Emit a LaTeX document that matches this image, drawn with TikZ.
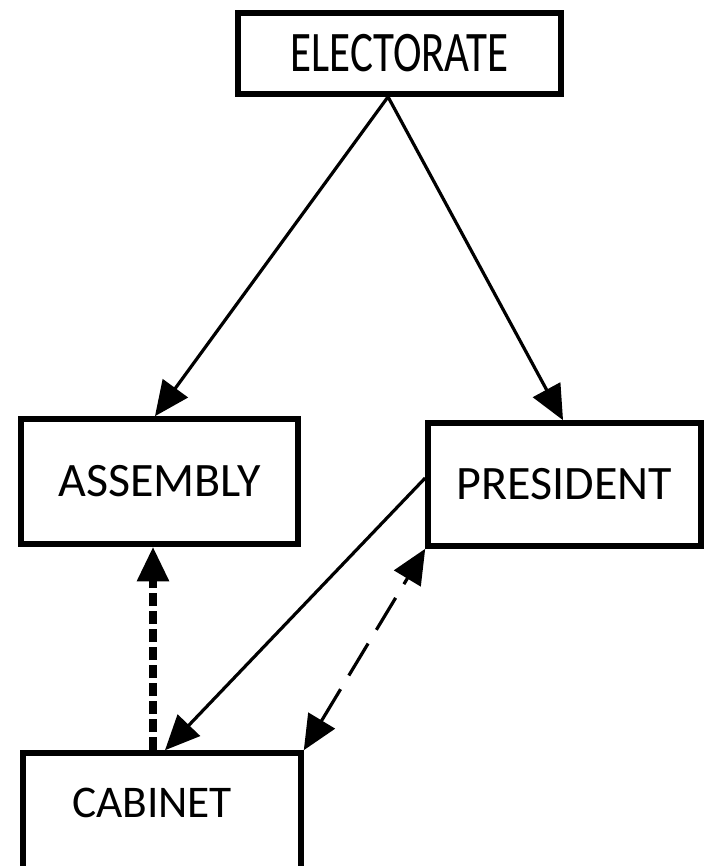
\documentclass[tikz,border=0pt]{standalone}
\usepackage{fontspec}
\setmainfont{Carlito}
\usepackage{graphicx}
\usetikzlibrary{arrows.meta}

\begin{document}
\begin{tikzpicture}[x=0.75pt,y=-0.75pt,
  box/.style={draw,line width=4.2pt,inner sep=0pt,font=\fontsize{36}{42}\selectfont},
  link/.style={line width=2.4pt,-{Triangle[length=26pt,width=23pt]}}]
\useasboundingbox (0,0) rectangle (705,866);
\node [box,minimum width=242.25pt,minimum height=60.75pt] (elec) at (399.5,53.5) {\scalebox{0.75}[1]{\fontsize{43}{50}\selectfont ELECTORATE}};
\node [box,minimum width=207.75pt,minimum height=93.75pt] (asm) at (159.5,481.5) {ASSEMBLY};
\node [box,minimum width=204.75pt,minimum height=92.25pt] (pres) at (564.5,484.5) {PRESIDENT};
\node [box,font=\fontsize{34}{40}\selectfont,text width=135pt,align=left,inner xsep=36.75pt,text height=21.75pt,text depth=27.75pt,minimum height=102pt] (cab) at (162,821) {CABINET};
\draw [link] ([xshift=-8.6pt]elec.south) -- ([xshift=-3.4pt]asm.north);
\draw [link] ([xshift=-8.6pt]elec.south) -- ([xshift=-1.1pt]pres.north);
\draw [link] ([yshift=4.9pt]pres.west) -- ([xshift=2.25pt]cab.north);
\draw [link,line width=5.5pt,dash pattern=on 9.75pt off 3.75pt] ([xshift=-6.75pt]cab.north) -- ([xshift=-6.75pt]cab.north |- asm.south);
\draw [link,{Triangle[length=26pt,width=23pt]}-{Triangle[length=26pt,width=23pt]},dash pattern=on 28pt off 12pt] (cab.north east) -- (pres.south west);
\end{tikzpicture}
\end{document}
